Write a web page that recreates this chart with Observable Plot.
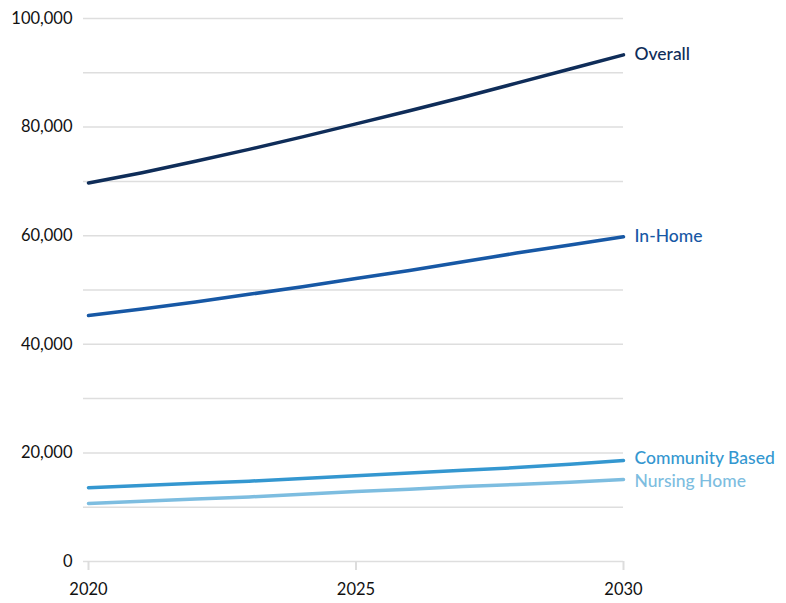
<!DOCTYPE html>
<html>
<head>
<meta charset="utf-8">
<script src="https://cdn.jsdelivr.net/npm/d3@7"></script>
<script src="https://cdn.jsdelivr.net/npm/@observablehq/plot@0.6"></script>
<style>
  html, body { margin: 0; padding: 0; background: #fff; }
  #chart svg { display: block; }
</style>
</head>
<body>
<div id="chart"></div>
<script>
// Projected population by care setting, 2020–2030
const years = [2020, 2021, 2022, 2023, 2024, 2025, 2026, 2027, 2028, 2029, 2030];
const overall        = [69700, 71600, 73700, 75900, 78200, 80600, 83000, 85500, 88100, 90700, 93300];
const inHome         = [45300, 46500, 47800, 49200, 50600, 52100, 53600, 55200, 56800, 58300, 59800];
const communityBased = [13600, 14000, 14400, 14800, 15300, 15800, 16300, 16800, 17300, 17900, 18600];
const nursingHome    = [10700, 11100, 11500, 11900, 12400, 12900, 13300, 13800, 14200, 14600, 15100];

const seriesNames  = ["Overall", "In-Home", "Community Based", "Nursing Home"];
const seriesValues = [overall, inHome, communityBased, nursingHome];
const seriesColors = ["#0f2d59", "#1758a5", "#3497d0", "#7dbde0"];
// small vertical nudges so the two close end labels don't collide
const labelNudge = {"Overall": 0, "In-Home": 0, "Community Based": -2, "Nursing Home": 2};

const yTicks = [0, 20000, 40000, 60000, 80000, 100000];
const gridTicks = d3.range(0, 100001, 10000);
const xTicks = [2020, 2025, 2030];

const rows = seriesNames.flatMap((name, i) =>
  years.map((year, j) => ({series: name, year, value: seriesValues[i][j]}))
);
const ends = rows.filter(d => d.year === years[years.length - 1]);

const endLabels = ends.map(d =>
  Plot.text([d], {x: "year", y: "value", text: "series", fill: "series", textAnchor: "start",
    dx: 11, dy: labelNudge[d.series], fontSize: 17.5, fontWeight: 500})
);

const chart = Plot.plot({
  width: 786,
  height: 603,
  marginLeft: 83,
  marginRight: 163,
  marginTop: 18,
  marginBottom: 42,
  insetLeft: 5,
  style: {fontFamily: "Lato, sans-serif", fontSize: "16px", color: "#111", background: "#fff"},
  x: {domain: [2020, 2030], ticks: xTicks, tickFormat: d => String(d), label: null},
  y: {domain: [0, 100000], label: null},
  color: {domain: seriesNames, range: seriesColors},
  marks: [
    Plot.ruleY(gridTicks, {stroke: "#dedede", strokeWidth: 1.5}),
    Plot.axisY(yTicks, {tickSize: 0, tickPadding: 11, tickFormat: d3.format(","), fontSize: 16.5, fill: "#111"}),
    Plot.axisX(xTicks, {tickSize: 9, tickPadding: 13, stroke: "#dddddd", strokeWidth: 2, fill: "#111", fontSize: 16.5, tickFormat: d => String(d)}),
    Plot.lineY(rows, {x: "year", y: "value", z: "series", stroke: "series", strokeWidth: 3.5}),
    ...endLabels
  ]
});
document.getElementById("chart").appendChild(chart);
</script>
</body>
</html>
